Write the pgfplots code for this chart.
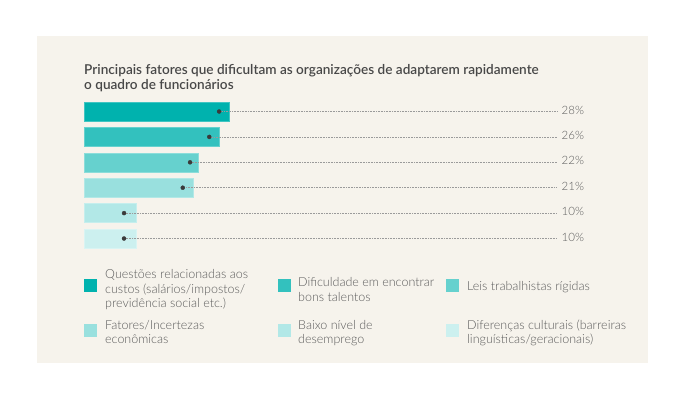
\documentclass[border=0pt]{standalone}
\usepackage{pgfplots}
\pgfplotsset{compat=1.18}
\usepackage{fontspec}
\setmainfont{Lato}
\newfontfamily\lightfont{Lato Light}
\newfontfamily\titlefont{Lato Semibold}

\definecolor{panel}{HTML}{F6F3EC}
\definecolor{titlec}{HTML}{484848}
\definecolor{textc}{HTML}{5C5C5C}
\definecolor{dotc}{HTML}{3A3A3A}
\definecolor{linec}{HTML}{9A9A9A}
\definecolor{c1}{HTML}{00B2AE}
\definecolor{c2}{HTML}{33C1BE}
\definecolor{c3}{HTML}{66D1CE}
\definecolor{c4}{HTML}{99E0DE}
\definecolor{c5}{HTML}{B2E8E7}
\definecolor{c6}{HTML}{CCF0EF}

\begin{document}
\begin{tikzpicture}
\useasboundingbox (0,0) rectangle (684pt,400pt);
\fill[white] (0,0) rectangle (684pt,400pt);
\fill[panel] (37pt,37pt) rectangle (648pt,364pt);

% title
\begin{scope}[every node/.style={anchor=base west, inner sep=0pt, text=titlec,
    font=\fontsize{13.6}{16}\selectfont\titlefont}]
  \node at (84pt,326pt) {Principais fatores que dificultam as organizações de adaptarem rapidamente};
  \node at (84pt,310.7pt) {o quadro de funcionários};
\end{scope}

\begin{axis}[
    at={(84pt,148.8pt)}, anchor=south west,
    scale only axis, width=473pt, height=152.4pt,
    xmin=0, xmax=91, ymin=-0.5, ymax=5.5,
    y dir=reverse, axis lines=none, clip=false,
    bar width=19pt,
  ]
  % bars (2023 values)
  \addplot[xbar, bar shift=0pt, fill=c1, draw=c1!75!white] coordinates {(28,0)};
  \addplot[xbar, bar shift=0pt, fill=c2, draw=c2!75!white] coordinates {(26,1)};
  \addplot[xbar, bar shift=0pt, fill=c3, draw=c3!75!white] coordinates {(22,2)};
  \addplot[xbar, bar shift=0pt, fill=c4, draw=c4!75!white] coordinates {(21,3)};
  \addplot[xbar, bar shift=0pt, fill=c5, draw=c5!75!white] coordinates {(10,4)};
  \addplot[xbar, bar shift=0pt, fill=c6, draw=c6!75!white] coordinates {(10,5)};

  % dotted leaders from the markers to the labels
  \addplot[densely dotted, color=linec, line width=0.6pt] coordinates {(26,0) (91,0)};
  \addplot[densely dotted, color=linec, line width=0.6pt] coordinates {(24.1,1) (91,1)};
  \addplot[densely dotted, color=linec, line width=0.6pt] coordinates {(20.4,2) (91,2)};
  \addplot[densely dotted, color=linec, line width=0.6pt] coordinates {(19,3) (91,3)};
  \addplot[densely dotted, color=linec, line width=0.6pt] coordinates {(7.7,4) (91,4)};
  \addplot[densely dotted, color=linec, line width=0.6pt] coordinates {(7.7,5) (91,5)};

  % markers
  \addplot[only marks, mark=*, mark size=2pt, color=dotc] coordinates {
    (26,0) (24.1,1) (20.4,2) (19,3) (7.7,4) (7.7,5)
  };

  % value labels
  \addplot[draw=none, nodes near coords, point meta=explicit symbolic,
    nodes near coords style={anchor=base west, inner sep=0pt, xshift=4.5pt, yshift=-2.6pt,
      text=textc, font=\fontsize{11.5}{13}\selectfont\lightfont}]
    coordinates {
    (91,0) [28\%]
    (91,1) [26\%]
    (91,2) [22\%]
    (91,3) [21\%]
    (91,4) [10\%]
    (91,5) [10\%]
  };
\end{axis}

% legend
\fill[c1] (84pt,108pt) rectangle (97pt,121pt);
\fill[c2] (278pt,108pt) rectangle (291pt,121pt);
\fill[c3] (446pt,108pt) rectangle (459pt,121pt);
\fill[c4] (84pt,63.5pt) rectangle (97pt,76.5pt);
\fill[c5] (278pt,63.5pt) rectangle (291pt,76.5pt);
\fill[c6] (446pt,63.5pt) rectangle (459pt,76.5pt);
\begin{scope}[every node/.style={anchor=base west, inner sep=0pt, text=textc,
    font=\fontsize{12.5}{14.5}\selectfont\lightfont}]
  \node at (105pt,121.3pt) {Questões relacionadas aos};
  \node at (105pt,106.8pt) {custos (salários/impostos/};
  \node at (105pt,92.3pt)  {previdência social etc.)};
  \node at (298pt,113.5pt) {Dificuldade em encontrar};
  \node at (298pt,99pt)    {bons talentos};
  \node at (467pt,109.5pt) {Leis trabalhistas rígidas};
  \node at (105pt,71pt)    {Fatores/Incertezas};
  \node at (105pt,56.7pt)  {econômicas};
  \node at (298pt,71pt)    {Baixo nível de};
  \node at (298pt,56.7pt)  {desemprego};
  \node at (467pt,71pt)    {Diferenças culturais (barreiras};
  \node at (467pt,56.7pt)  {linguísticas/geracionais)};
\end{scope}
\end{tikzpicture}
\end{document}
